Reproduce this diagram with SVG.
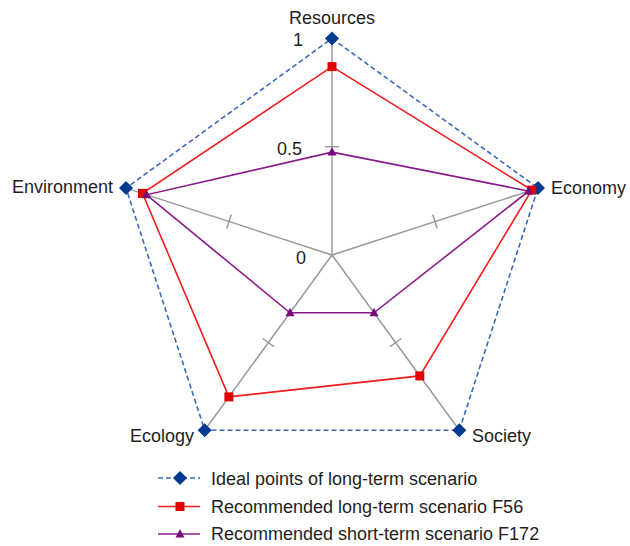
<svg xmlns="http://www.w3.org/2000/svg" width="630" height="546" viewBox="0 0 630 546">
<style>
text{font-family:"Liberation Sans",Arial,sans-serif;fill:#1e1e1e;font-size:18px}
.axis{stroke:#9a9a9a;stroke-width:1.5;fill:none}
.ideal{stroke:#3a67c0;stroke-width:1.6;stroke-dasharray:5 3;fill:none}
.red{stroke:#f21c1c;stroke-width:1.6;fill:none}
.pur{stroke:#8a1a8a;stroke-width:1.6;fill:none}
.dia{fill:#003a8f}
.sq{fill:#e00000}
.tri{fill:#7a0a7a}
</style>
<defs>
<path id="dm" d="M0,-7 L7,0 L0,7 L-7,0Z"/>
<rect id="sqm" x="-4.5" y="-4.5" width="9" height="9"/>
<path id="tm" d="M0,-5 L4.5,3.5 L-4.5,3.5Z"/>
</defs>
<g id="axes">
<line class="axis" x1="332" y1="255" x2="332" y2="38.4"/>
<line class="axis" x1="332" y1="255" x2="538" y2="188.1"/>
<line class="axis" x1="332" y1="255" x2="459.3" y2="430.2"/>
<line class="axis" x1="332" y1="255" x2="204.7" y2="430.2"/>
<line class="axis" x1="332" y1="255" x2="126" y2="188.1"/>
<line class="axis" x1="325" y1="146.7" x2="339" y2="146.7"/>
<line class="axis" x1="432.8" y1="214.8" x2="437.2" y2="228.2"/>
<line class="axis" x1="401.4" y1="338.5" x2="390" y2="346.7"/>
<line class="axis" x1="262.6" y1="338.5" x2="274" y2="346.7"/>
<line class="axis" x1="231.2" y1="214.8" x2="226.8" y2="228.2"/>
</g>
<g id="connectors">
<polygon class="ideal" points="332,38.4 538,188.1 459.3,430.2 204.7,430.2 126,188.1"/>
<polygon class="red" points="332,66.6 531.8,190.1 419.8,375.9 228.9,396.9 142.5,193.4"/>
<polygon class="pur" points="332,152.1 528.7,191.1 374,312.8 290,312.8 146.6,194.8"/>
</g>
<g id="ideal-points">
<use href="#dm" class="dia" x="332" y="38.4"/>
<use href="#dm" class="dia" x="538" y="188.1"/>
<use href="#dm" class="dia" x="459.3" y="430.2"/>
<use href="#dm" class="dia" x="204.7" y="430.2"/>
<use href="#dm" class="dia" x="126" y="188.1"/>
</g>
<g id="f56-points">
<use href="#sqm" class="sq" x="332" y="66.6"/>
<use href="#sqm" class="sq" x="531.8" y="190.1"/>
<use href="#sqm" class="sq" x="419.8" y="375.9"/>
<use href="#sqm" class="sq" x="228.9" y="396.9"/>
<use href="#sqm" class="sq" x="142.5" y="193.4"/>
</g>
<g id="f172-points">
<use href="#tm" class="tri" x="332" y="152.1"/>
<use href="#tm" class="tri" x="528.7" y="191.1"/>
<use href="#tm" class="tri" x="374" y="312.8"/>
<use href="#tm" class="tri" x="290" y="312.8"/>
<use href="#tm" class="tri" x="146.6" y="194.8"/>
</g>
<g id="labels">
<text x="332" y="24" text-anchor="middle" font-size="17.5">Resources</text>
<text x="551" y="194">Economy</text>
<text x="472" y="441.5">Society</text>
<text x="194" y="441.5" text-anchor="end">Ecology</text>
<text x="113" y="193" text-anchor="end">Environment</text>
<text x="303" y="46" text-anchor="end">1</text>
<text x="302" y="155" text-anchor="end">0.5</text>
<text x="306" y="263.5" text-anchor="end">0</text>
</g>
<g id="legend">
<line class="ideal" x1="158" y1="478" x2="200" y2="478"/>
<use href="#dm" class="dia" x="180" y="478"/>
<text x="211" y="484.5">Ideal points of long-term scenario</text>
<line class="red" x1="158" y1="506.5" x2="200" y2="506.5"/>
<use href="#sqm" class="sq" x="180" y="506.5"/>
<text x="211" y="512.5">Recommended long-term scenario F56</text>
<line class="pur" x1="158" y1="534" x2="200" y2="534"/>
<use href="#tm" class="tri" x="180" y="534"/>
<text x="211" y="540">Recommended short-term scenario F172</text>
</g>
</svg>
